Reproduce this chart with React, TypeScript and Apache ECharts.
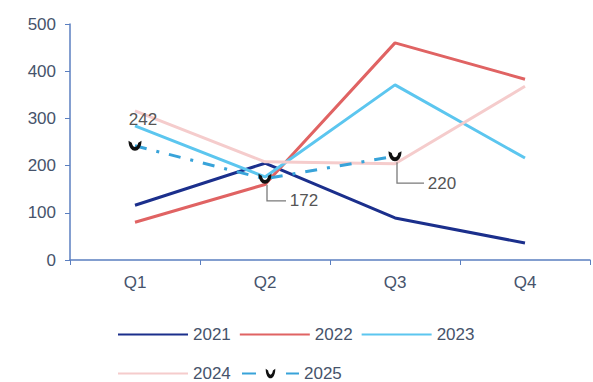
import React, { useEffect, useRef } from "react";
import * as echarts from "echarts";

const categories = ["Q1", "Q2", "Q3", "Q4"];
const s2021 = [116, 205, 89, 36];
const s2022 = [80, 160, 460, 383];
const s2023 = [284, 176, 371, 216];
const s2024 = [316, 208, 204, 368];
const s2025 = [242, 172, 220, null];
const yTicks = [0, 100, 200, 300, 400, 500];

const FONT = "Liberation Sans, Arial, sans-serif";
const TXT = "#46536b";
const AXIS = "#5b7fc0";
const MARK = "path://M0,0 C0,14 24,14 24,0 L18,2 C16,8 8,8 6,2 Z";

export default function App() {
  const ref = useRef<HTMLDivElement>(null);
  useEffect(() => {
    if (!ref.current) return;
    const chart = echarts.init(ref.current, null, { renderer: "svg" });
    const offsets = [
      { dx: 8, dy: -26, line: false },
      { dx: 39, dy: 22, line: true },
      { dx: 47, dy: 27, line: true },
    ];
    const hideSym = { itemStyle: { opacity: 0 } };
    const legendText = { fontFamily: FONT, fontSize: 17, color: TXT };
    chart.setOption({
      animation: false,
      grid: { left: 70, right: 3, top: 24, bottom: 122 },
      legend: [
        {
          data: [
            { name: "2021", ...hideSym },
            { name: "2022", ...hideSym },
            { name: "2023", ...hideSym },
          ],
          left: 112,
          top: 321,
          itemWidth: 70,
          itemHeight: 12,
          itemGap: 8,
          textStyle: legendText,
        },
        {
          data: [{ name: "2024", ...hideSym }],
          left: 112,
          top: 360,
          itemWidth: 70,
          itemHeight: 12,
          itemGap: 8,
          textStyle: legendText,
        },
        {
          data: [{ name: "2025", lineStyle: { type: [14, 30] } }],
          left: 236,
          top: 360,
          itemWidth: 57,
          itemHeight: 12,
          itemGap: 8,
          textStyle: legendText,
        },
      ],
      xAxis: {
        type: "category",
        data: categories,
        boundaryGap: true,
        axisLine: { lineStyle: { color: AXIS, width: 1.5 } },
        axisTick: { show: true, length: 5, lineStyle: { color: AXIS } },
        axisLabel: { fontFamily: FONT, fontSize: 17, color: TXT, margin: 14 },
      },
      yAxis: {
        type: "value",
        min: yTicks[0],
        max: yTicks[yTicks.length - 1],
        interval: 100,
        splitLine: { show: false },
        axisLine: { show: true, lineStyle: { color: AXIS, width: 1.5 } },
        axisTick: { show: true, inside: false, length: 5, lineStyle: { color: AXIS } },
        axisLabel: { fontFamily: FONT, fontSize: 17, color: TXT, margin: 14 },
      },
      series: [
        {
          name: "2021",
          type: "line",
          data: s2021,
          symbol: "none",
          color: "#1b2f8c",
          lineStyle: { width: 3, color: "#1b2f8c" },
        },
        {
          name: "2022",
          type: "line",
          data: s2022,
          symbol: "none",
          color: "#e06363",
          lineStyle: { width: 3, color: "#e06363" },
        },
        {
          name: "2023",
          type: "line",
          data: s2023,
          symbol: "none",
          color: "#5cc6ef",
          lineStyle: { width: 3, color: "#5cc6ef" },
        },
        {
          name: "2024",
          type: "line",
          data: s2024,
          symbol: "none",
          color: "#f5cccc",
          lineStyle: { width: 3, color: "#f5cccc" },
        },
        {
          name: "2025",
          type: "line",
          data: s2025,
          symbol: MARK,
          symbolSize: [13, 10],
          color: "#38a3d9",
          itemStyle: { color: "#111" },
          lineStyle: { width: 3, color: "#38a3d9", type: [12, 10, 3, 10] },
          z: 5,
          label: {
            show: true,
            position: "inside",
            fontFamily: FONT,
            fontSize: 17,
            color: "#555",
          },
          labelLayout: (p: any) => {
            const o = offsets[p.dataIndex] || { dx: 0, dy: 0 };
            return { dx: o.dx, dy: o.dy };
          },
        },
      ],
    });

    const lines: any[] = [];
    s2025.forEach((v, i) => {
      const o = offsets[i];
      if (v == null || !o || !o.line) return;
      const pt = chart.convertToPixel({ seriesIndex: 4 }, [i, v]) as number[];
      const x = pt[0];
      const y = pt[1];
      const ly = y + o.dy;
      const lx = x + o.dx - 18;
      lines.push({
        type: "polyline",
        shape: {
          points: [
            [x + 2, y + 6],
            [x + 2, ly],
            [lx, ly],
          ],
        },
        style: { stroke: "#7a7a7a", lineWidth: 1.3, fill: "none" },
        z: 10,
      });
    });
    chart.setOption({ graphic: lines });

    return () => chart.dispose();
  }, []);
  return (
    <div
      ref={ref}
      style={{ position: "absolute", left: 0, top: 0, width: 593, height: 382 }}
    />
  );
}
